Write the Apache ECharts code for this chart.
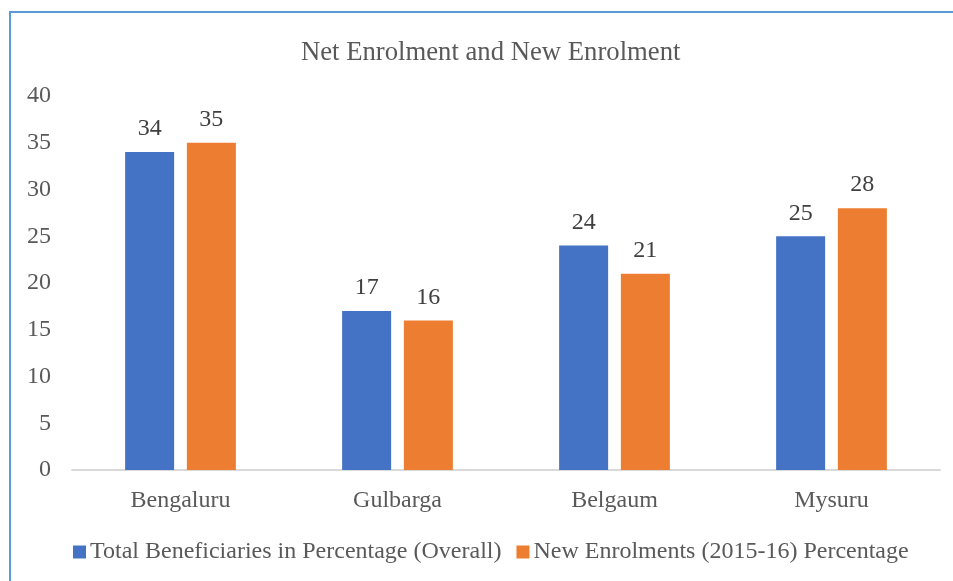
<!DOCTYPE html>
<html>
<head>
<meta charset="utf-8">
<script src="https://cdn.jsdelivr.net/npm/echarts@6/dist/echarts.min.js"></script>
<style>
  html, body { margin: 0; padding: 0; background: #fff; }
  #frame { position: absolute; left: 9px; top: 11px; width: 960px; height: 600px; border: 2px solid #5b9bd5; box-sizing: border-box; }
  #chart { position: absolute; left: 0; top: 0; width: 953px; height: 581px; }
</style>
</head>
<body>
<div id="frame"></div>
<div id="chart"></div>
<script>
const categories = ['Bengaluru', 'Gulbarga', 'Belgaum', 'Mysuru'];
const totalBeneficiaries = [34, 17, 24, 25];
const newEnrolments = [35, 16, 21, 28];
const seriesNames = ['Total Beneficiaries in Percentage (Overall)', 'New Enrolments (2015-16) Percentage'];

const font = '"Liberation Serif", "Times New Roman", serif';
const textColor = '#595959';

const chart = echarts.init(document.getElementById('chart'), null, { renderer: 'canvas' });
chart.setOption({
  animation: false,
  title: {
    text: 'Net Enrolment and New Enrolment',
    left: 296,
    top: 34,
    textStyle: { fontFamily: font, fontSize: 26.7, fontWeight: 'normal', color: textColor }
  },
  legend: {
    top: 535,
    left: 68,
    itemWidth: 13,
    itemHeight: 13,
    itemGap: 15,
    icon: 'rect',
    textStyle: { fontFamily: font, fontSize: 24, color: textColor, padding: [0, 0, 0, -1] },
    data: seriesNames
  },
  grid: { left: 72, right: 13, top: 96, bottom: 111, containLabel: false },
  xAxis: {
    type: 'category',
    data: categories,
    axisLine: { lineStyle: { color: '#d9d9d9', width: 2 } },
    axisTick: { show: false },
    axisLabel: { fontFamily: font, fontSize: 24, color: textColor, margin: 19 }
  },
  yAxis: {
    type: 'value',
    min: 0,
    max: 40,
    interval: 5,
    splitLine: { show: false },
    axisLine: { show: false },
    axisTick: { show: false },
    axisLabel: { fontFamily: font, fontSize: 24, color: textColor, margin: 21 }
  },
  series: [
    {
      name: seriesNames[0],
      type: 'bar',
      data: totalBeneficiaries,
      barWidth: 49,
      barGap: '26%',
      itemStyle: { color: '#4472c4' },
      label: { show: true, position: 'top', distance: 11, fontFamily: font, fontSize: 24, color: '#404040' }
    },
    {
      name: seriesNames[1],
      type: 'bar',
      data: newEnrolments,
      barWidth: 49,
      barGap: '26%',
      itemStyle: { color: '#ed7d31' },
      label: { show: true, position: 'top', distance: 11, fontFamily: font, fontSize: 24, color: '#404040' }
    }
  ]
});
</script>
</body>
</html>
